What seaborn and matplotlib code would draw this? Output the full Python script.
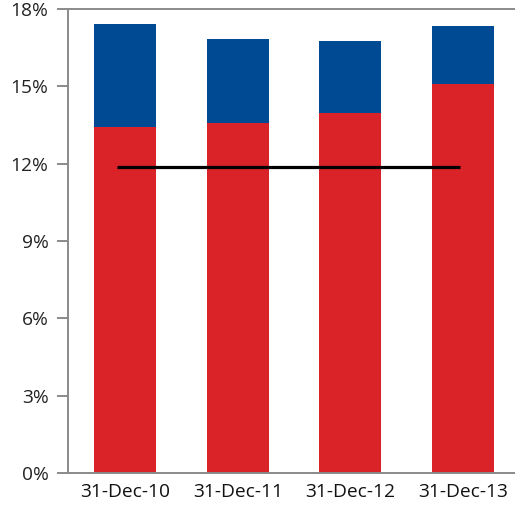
import matplotlib
matplotlib.use('Agg')
import matplotlib.pyplot as plt
import seaborn as sns
import pandas as pd
from matplotlib.ticker import FuncFormatter

# values (percent)
dates = ['31-Dec-10', '31-Dec-11', '31-Dec-12', '31-Dec-13']
red_part = [13.42, 13.58, 13.96, 15.09]
blue_part = [4.00, 3.25, 2.80, 2.25]
threshold = 11.87

RED = '#DA2229'
BLUE = '#004A93'
GREY = '#8a8a8a'

df = pd.DataFrame({'date': dates, 'red': red_part, 'blue': blue_part})
df['total'] = df['red'] + df['blue']

sns.set_style('white')
plt.rcParams['font.family'] = ['Open Sans', 'DejaVu Sans']

fig = plt.figure(figsize=(5.15, 5.05), dpi=100)
ax = fig.add_axes([0.132, 0.0634, 0.868, 0.9186])

sns.barplot(data=df, x='date', y='total', color=BLUE, width=0.55,
            saturation=1, linewidth=0, ax=ax)
sns.barplot(data=df, x='date', y='red', color=RED, width=0.55,
            saturation=1, linewidth=0, ax=ax)

ax.hlines(threshold, -0.07, 2.97, color='black', lw=2.3, zorder=5)

ax.set_ylim(0, 18)
ax.set_xlim(-0.506, 3.46)
ax.set_yticks(range(0, 19, 3))
ax.yaxis.set_major_formatter(FuncFormatter(lambda v, p: f'{int(v)}%'))
ax.set_xlabel('')
ax.set_ylabel('')

for side in ['left', 'bottom', 'top']:
    ax.spines[side].set_visible(True)
    ax.spines[side].set_color(GREY)
    ax.spines[side].set_linewidth(1.4)
ax.spines['right'].set_visible(False)

ax.tick_params(axis='y', left=True, length=8, width=1.4, color=GREY,
               labelsize=13.8, labelcolor='#222222', pad=6)
ax.tick_params(axis='x', bottom=False, labelsize=13.8, labelcolor='#111111',
               pad=4)

fig.savefig('out.png', dpi=100)
